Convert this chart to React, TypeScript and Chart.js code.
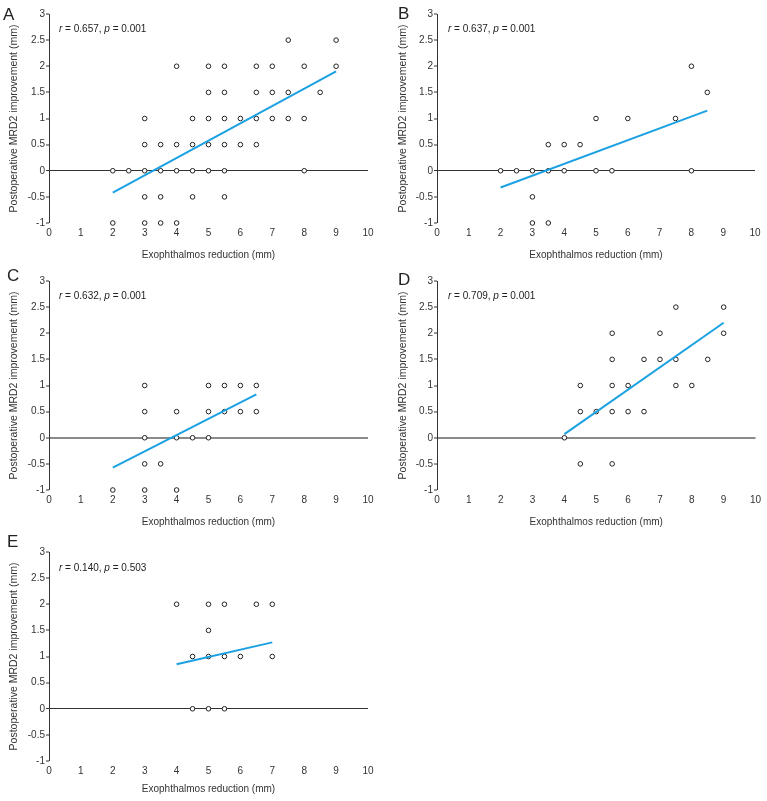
import React, { useEffect, useRef } from "react";
import { Chart, registerables } from "chart.js";

Chart.register(...registerables);

// ---------- tick labels ----------
const xTickValues = [0, 1, 2, 3, 4, 5, 6, 7, 8, 9, 10];
const yTickValues = [-1, -0.5, 0, 0.5, 1, 1.5, 2, 2.5, 3];

const xAxisTitle = "Exophthalmos reduction (mm)";
const yAxisTitle = "Postoperative MRD2 improvement (mm)";

// ---------- panel A ----------
const aX = [7.5, 9, 4, 5, 5.5, 6.5, 7, 8, 9, 5, 5.5, 6.5, 7, 7.5, 8.5, 3, 4.5, 5, 5.5, 6, 6.5, 7, 7.5, 8, 3, 3.5, 4, 4.5, 5, 5.5, 6, 6.5, 2, 2.5, 3, 3.5, 4, 4.5, 5, 5.5, 8, 3, 3.5, 4.5, 5.5, 2, 3, 3.5, 4];
const aY = [2.5, 2.5, 2, 2, 2, 2, 2, 2, 2, 1.5, 1.5, 1.5, 1.5, 1.5, 1.5, 1, 1, 1, 1, 1, 1, 1, 1, 1, 0.5, 0.5, 0.5, 0.5, 0.5, 0.5, 0.5, 0.5, 0, 0, 0, 0, 0, 0, 0, 0, 0, -0.5, -0.5, -0.5, -0.5, -1, -1, -1, -1];
const aFitX = [2, 9];
const aFitY = [-0.42, 1.9];

// ---------- panel B ----------
const bX = [8, 8.5, 5, 6, 7.5, 3.5, 4, 4.5, 2, 2.5, 3, 3.5, 4, 5, 5.5, 8, 3, 3, 3.5];
const bY = [2, 1.5, 1, 1, 1, 0.5, 0.5, 0.5, 0, 0, 0, 0, 0, 0, 0, 0, -0.5, -1, -1];
const bFitX = [2, 8.5];
const bFitY = [-0.32, 1.15];

// ---------- panel C ----------
const cX = [3, 5, 5.5, 6, 6.5, 3, 4, 5, 5.5, 6, 6.5, 3, 4, 4.5, 5, 3, 3.5, 2, 3, 4];
const cY = [1, 1, 1, 1, 1, 0.5, 0.5, 0.5, 0.5, 0.5, 0.5, 0, 0, 0, 0, -0.5, -0.5, -1, -1, -1];
const cFitX = [2, 6.5];
const cFitY = [-0.57, 0.83];

// ---------- panel D ----------
const dX = [7.5, 9, 5.5, 7, 9, 5.5, 6.5, 7, 7.5, 8.5, 4.5, 5.5, 6, 7.5, 8, 4.5, 5, 5.5, 6, 6.5, 4, 4.5, 5.5];
const dY = [2.5, 2.5, 2, 2, 2, 1.5, 1.5, 1.5, 1.5, 1.5, 1, 1, 1, 1, 1, 0.5, 0.5, 0.5, 0.5, 0.5, 0, -0.5, -0.5];
const dFitX = [4, 9];
const dFitY = [0.07, 2.2];

// ---------- panel E ----------
const eX = [4, 5, 5.5, 6.5, 7, 5, 4.5, 5, 5.5, 6, 7, 4.5, 5, 5.5];
const eY = [2, 2, 2, 2, 2, 1.5, 1, 1, 1, 1, 1, 0, 0, 0];
const eFitX = [4, 7];
const eFitY = [0.85, 1.27];

// ---------- statistics ----------
const rValues = ["0.657", "0.637", "0.632", "0.709", "0.140"];
const pValues = ["0.001", "0.001", "0.001", "0.001", "0.503"];
const letters = ["A", "B", "C", "D", "E"];

const FONT = "'Liberation Sans', Arial, Helvetica, sans-serif";
const TEXT = "#333333";
const BLUE = "#1ba1e2";

const W = 382;
const PAD_TOP = 12;
const PLOT_H = 209;
const XSCALE_H = 40;
const H = PAD_TOP + PLOT_H + XSCALE_H;

type PanelCfg = {
  idx: number;
  xs: number[];
  ys: number[];
  fitX: number[];
  fitY: number[];
  x0: number;
  axisLeft: number;
  axisRight: number;
  chartTop: number;
  yTitleCenter: number;
  xTitlePad: number;
  zeroColor: string;
  zeroWidth: number;
  letterX: number;
  letterY: number;
  rX: number;
  rY: number;
};

const panels: PanelCfg[] = [
  { idx: 0, xs: aX, ys: aY, fitX: aFitX, fitY: aFitY, x0: 0, axisLeft: 49, axisRight: 368, chartTop: 14, yTitleCenter: 14, xTitlePad: 2, zeroColor: "#333", zeroWidth: 1, letterX: 3, letterY: 14, rX: 59, rY: 29 },
  { idx: 1, xs: bX, ys: bY, fitX: bFitX, fitY: bFitY, x0: 385, axisLeft: 437, axisRight: 755, chartTop: 14, yTitleCenter: 18, xTitlePad: 2, zeroColor: "#333", zeroWidth: 1, letterX: 398, letterY: 13, rX: 448, rY: 29 },
  { idx: 2, xs: cX, ys: cY, fitX: cFitX, fitY: cFitY, x0: 0, axisLeft: 49, axisRight: 368, chartTop: 281, yTitleCenter: 14, xTitlePad: 2, zeroColor: "#8a8a8a", zeroWidth: 2, letterX: 7, letterY: 275, rX: 59, rY: 296 },
  { idx: 3, xs: dX, ys: dY, fitX: dFitX, fitY: dFitY, x0: 385, axisLeft: 437, axisRight: 755.5, chartTop: 281, yTitleCenter: 18, xTitlePad: 2, zeroColor: "#8a8a8a", zeroWidth: 2, letterX: 398, letterY: 279, rX: 448, rY: 296 },
  { idx: 4, xs: eX, ys: eY, fitX: eFitX, fitY: eFitY, x0: 0, axisLeft: 49, axisRight: 368, chartTop: 552, yTitleCenter: 14, xTitlePad: 6, zeroColor: "#333", zeroWidth: 1, letterX: 7, letterY: 541, rX: 59, rY: 568 },
];

function Panel({ cfg }: { cfg: PanelCfg }) {
  const ref = useRef<HTMLCanvasElement | null>(null);

  useEffect(() => {
    if (!ref.current) return;
    const yTitleFont = 10.5;
    const chart = new Chart(ref.current, {
      type: "scatter",
      data: {
        datasets: [
          {
            type: "line",
            data: cfg.fitX.map((x, i) => ({ x, y: cfg.fitY[i] })),
            borderColor: BLUE,
            borderWidth: 2,
            pointRadius: 0,
            fill: false,
            clip: false,
            order: 0,
          } as any,
          {
            type: "scatter",
            data: cfg.xs.map((x, i) => ({ x, y: cfg.ys[i] })),
            pointRadius: 2.3,
            borderWidth: 1,
            borderColor: "#222",
            backgroundColor: "#ffffff",
            clip: false,
            order: 1,
          } as any,
        ],
      },
      options: {
        responsive: false,
        animation: false,
        devicePixelRatio: 1,
        layout: {
          padding: { top: PAD_TOP, left: 0, right: W - (cfg.axisRight - cfg.x0), bottom: 0 },
        },
        plugins: { legend: { display: false }, tooltip: { enabled: false } },
        scales: {
          x: {
            type: "linear",
            min: 0,
            max: 10,
            afterBuildTicks: (axis: any) => {
              axis.ticks = xTickValues.map((v) => ({ value: v }));
            },
            afterFit: (s: any) => {
              s.height = XSCALE_H;
            },
            grid: { display: false, drawTicks: false },
            border: { display: false },
            ticks: {
              padding: 4.5,
              color: TEXT,
              font: { family: FONT, size: 10 },
              maxRotation: 0,
              autoSkip: false,
              callback: (v: any) => String(v),
            },
            title: {
              display: true,
              text: xAxisTitle,
              color: TEXT,
              font: { family: FONT, size: 10 },
              padding: { top: 0, bottom: cfg.xTitlePad },
            },
          },
          y: {
            type: "linear",
            min: -1,
            max: 3,
            afterBuildTicks: (axis: any) => {
              axis.ticks = yTickValues.map((v) => ({ value: v }));
            },
            afterFit: (s: any) => {
              s.width = cfg.axisLeft - cfg.x0;
            },
            grid: {
              drawOnChartArea: true,
              drawTicks: true,
              tickLength: 3,
              tickWidth: 1,
              tickColor: "#333",
              color: (ctx: any) => (ctx.tick && ctx.tick.value === 0 ? cfg.zeroColor : "rgba(0,0,0,0)"),
              lineWidth: (ctx: any) => (ctx.tick && ctx.tick.value === 0 ? cfg.zeroWidth : 0),
            },
            border: { display: true, color: "#333", width: 1 },
            ticks: {
              padding: 1,
              color: TEXT,
              font: { family: FONT, size: 10 },
              autoSkip: false,
              callback: (v: any) => String(v),
            },
            title: {
              display: true,
              text: yAxisTitle,
              color: TEXT,
              font: { family: FONT, size: yTitleFont },
              padding: { top: cfg.yTitleCenter - (yTitleFont * 1.2) / 2, bottom: 0 },
            },
          },
        },
      } as any,
    });
    return () => chart.destroy();
  }, [cfg]);

  const letterSize = 17;
  const rSize = 10;
  return (
    <>
      <canvas
        ref={ref}
        width={W}
        height={H}
        style={{ position: "absolute", left: cfg.x0, top: cfg.chartTop - PAD_TOP, width: W, height: H }}
      />
      <div
        style={{
          position: "absolute",
          left: cfg.letterX,
          top: cfg.letterY - letterSize * 0.49,
          fontFamily: FONT,
          fontSize: letterSize,
          lineHeight: 1,
          color: "#222",
          whiteSpace: "nowrap",
        }}
      >
        {letters[cfg.idx]}
      </div>
      <div
        style={{
          position: "absolute",
          left: cfg.rX,
          top: cfg.rY - rSize * 0.49,
          fontFamily: FONT,
          fontSize: rSize,
          lineHeight: 1,
          color: "#222",
          whiteSpace: "nowrap",
        }}
      >
        <i>r</i> = {rValues[cfg.idx]}, <i>p</i> = {pValues[cfg.idx]}
      </div>
    </>
  );
}

export default function App() {
  return (
    <div
      style={{
        position: "absolute",
        left: 0,
        top: 0,
        width: 767,
        height: 801,
        background: "#ffffff",
        overflow: "hidden",
      }}
    >
      {panels.map((p) => (
        <Panel key={p.idx} cfg={p} />
      ))}
    </div>
  );
}
